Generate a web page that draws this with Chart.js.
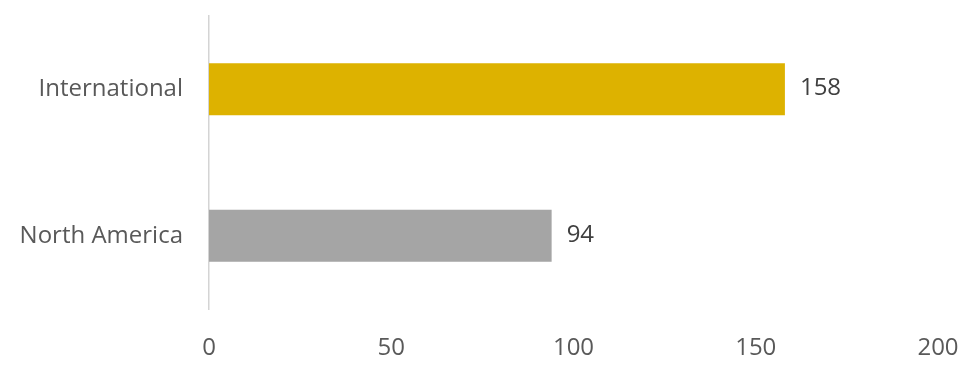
<!DOCTYPE html>
<html>
<head>
<meta charset="utf-8">
<script src="https://cdn.jsdelivr.net/npm/chart.js@4/dist/chart.umd.min.js"></script>
<style>
  html, body { margin: 0; padding: 0; background: #ffffff; }
  #wrap { width: 967px; height: 367px; position: relative; }
</style>
</head>
<body>
<div id="wrap"><canvas id="c" width="967" height="367"></canvas></div>
<script>
const categories = ['International', 'North America'];
const seriesValues = [158, 94];
const barColors = ['#DDB200', '#A5A5A5'];
const xTicks = [0, 50, 100, 150, 200];

const FONT = '"Open Sans", "Liberation Sans", sans-serif';

const valueLabels = {
  id: 'valueLabels',
  afterDatasetsDraw(chart) {
    const ctx = chart.ctx;
    const meta = chart.getDatasetMeta(0);
    ctx.save();
    ctx.font = '24px ' + FONT;
    ctx.fillStyle = '#404040';
    ctx.textAlign = 'left';
    ctx.textBaseline = 'middle';
    meta.data.forEach((bar, i) => {
      ctx.fillText(String(seriesValues[i]), bar.x + 15, bar.y - 1);
    });
    ctx.restore();
  }
};

function zeroPad(scale) {
  scale.paddingTop = 0; scale.paddingBottom = 0;
  scale.paddingLeft = 0; scale.paddingRight = 0;
}

new Chart(document.getElementById('c'), {
  type: 'bar',
  data: {
    labels: categories,
    datasets: [{
      data: seriesValues,
      backgroundColor: barColors,
      borderWidth: 0,
      categoryPercentage: 1.0,
      barPercentage: 0.355
    }]
  },
  options: {
    indexAxis: 'y',
    responsive: false,
    animation: false,
    devicePixelRatio: 1,
    layout: { padding: { top: 16, right: 29, bottom: 0, left: 0 } },
    plugins: { legend: { display: false }, tooltip: { enabled: false } },
    scales: {
      x: {
        min: 0, max: 200,
        afterBuildTicks(scale) { scale.ticks = xTicks.map(v => ({ value: v })); },
        afterFit(scale) { scale.height = 58; zeroPad(scale); },
        grid: { display: false, drawTicks: false },
        border: { display: false },
        ticks: { color: '#595959', font: { family: FONT, size: 24 }, padding: 25, maxRotation: 0 }
      },
      y: {
        afterFit(scale) { scale.width = 209; zeroPad(scale); },
        grid: { display: false, drawTicks: false },
        border: { display: true, color: '#D4D4D4', width: 1.5 },
        ticks: { color: '#595959', font: { family: FONT, size: 24 }, padding: 26 }
      }
    }
  },
  plugins: [valueLabels]
});
</script>
</body>
</html>
